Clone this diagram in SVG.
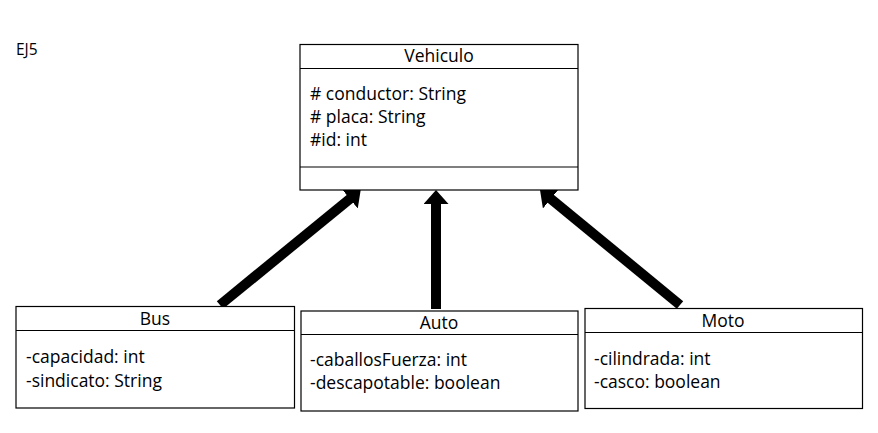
<svg xmlns="http://www.w3.org/2000/svg" width="878" height="433" viewBox="0 0 878 433">
<defs>
<style>
.box{fill:#fff;stroke:#000;stroke-width:1.2}
.div{stroke:#000;stroke-width:1.2}
text{font-family:"Open Sans","Liberation Sans",sans-serif;font-size:17.5px;fill:#000}
.t{text-anchor:middle}
.con{stroke:#000;stroke-width:10;fill:none}
</style>
<marker id="ah" markerUnits="userSpaceOnUse" markerWidth="16" markerHeight="26" refX="2" refY="12.5" orient="auto" viewBox="0 0 16 26">
<path d="M0,0 L14,12.5 L0,25 z" fill="#000"/>
</marker>
</defs>
<rect width="878" height="433" fill="#fff"/>
<text x="16" y="55" style="font-size:15.5px">EJ5</text>
<g id="connectors">
<line class="con" x1="220" y1="305" x2="351.4" y2="197.6" marker-end="url(#ah)"/>
<line class="con" x1="436" y1="309" x2="436" y2="202" marker-end="url(#ah)"/>
<line class="con" x1="680" y1="305" x2="549.3" y2="197.6" marker-end="url(#ah)"/>
</g>
<g id="vehiculo">
<rect class="box" x="300" y="44.5" width="278" height="145.5"/>
<line class="div" x1="300" y1="68.5" x2="578" y2="68.5"/>
<line class="div" x1="300" y1="167" x2="578" y2="167"/>
<text class="t" x="439" y="62">Vehiculo</text>
<text x="310" y="100"># conductor: String</text>
<text x="310" y="123"># placa: String</text>
<text x="310" y="146">#id: int</text>
</g>
<g id="bus">
<rect class="box" x="16" y="306.5" width="278.5" height="101.5"/>
<line class="div" x1="16" y1="330.5" x2="294.5" y2="330.5"/>
<text class="t" x="155" y="325">Bus</text>
<text x="26" y="363">-capacidad: int</text>
<text x="26" y="387">-sindicato: String</text>
</g>
<g id="auto">
<rect class="box" x="301" y="311" width="277" height="100"/>
<line class="div" x1="301" y1="334.5" x2="578" y2="334.5"/>
<text class="t" x="439" y="329">Auto</text>
<text x="310" y="366">-caballosFuerza: int</text>
<text x="310" y="389">-descapotable: boolean</text>
</g>
<g id="moto">
<rect class="box" x="585" y="308.5" width="277.5" height="100"/>
<line class="div" x1="585" y1="332.5" x2="862.5" y2="332.5"/>
<text class="t" x="723" y="327">Moto</text>
<text x="594" y="365">-cilindrada: int</text>
<text x="594" y="388">-casco: boolean</text>
</g>
</svg>
